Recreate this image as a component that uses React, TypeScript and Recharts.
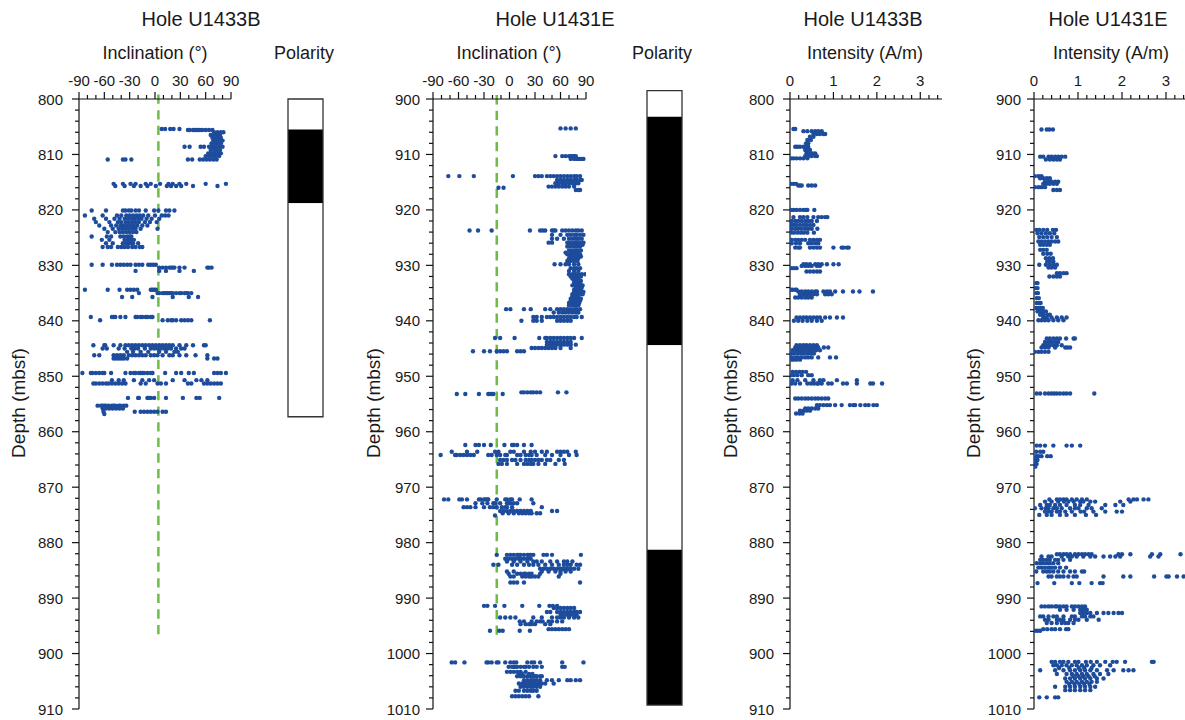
import React from 'react';
import { ScatterChart, Scatter, XAxis, YAxis, ReferenceLine, ReferenceArea } from 'recharts';

type Row = [number, number[]];

// each row: depth (mbsf) and the values measured around that depth
const incU1433B: Row[] = [
  [805.4, [8, 12, 18, 22, 29]],
  [805.6, [39, 41, 45, 47, 49, 51, 53, 56, 60, 64, 68]],
  [806.0, [70, 74, 78, 81]],
  [806.5, [66, 70, 74, 77]],
  [807.0, [68, 71, 75, 78]],
  [807.5, [69, 72, 76, 80]],
  [808.0, [67, 71, 74, 78]],
  [808.6, [35, 41, 54, 58, 64, 68, 72, 76, 80]],
  [809.2, [66, 70, 73, 77]],
  [809.8, [63, 67, 71, 75, 78]],
  [810.3, [60, 64, 68, 72, 76]],
  [810.9, [-56, -38, -35, -28, 39, 44, 53, 57, 61, 65, 69, 73]],
  [815.3, [-49, -38, -29, -23, -11, -5, 6, 16, 21, 29, 37, 60, 84]],
  [815.7, [-47, -36, -25, -17, -9, 1, 14, 19, 25, 31, 45, 74]],
  [820.1, [-75, -58, -38, -35, -31, -28, -23, -19, -11, -1, 4, 13, 17, 23]],
  [821.0, [-83, -62, -45, -40, -34, -30, -26, -22, -18, -14, -8, 0, 8, 12, 16]],
  [821.6, [-72, -58, -48, -42, -36, -32, -28, -24, -20, -16, -10, -4, 5]],
  [822.2, [-70, -54, -44, -40, -35, -31, -27, -23, -19, -12, -6, 2]],
  [822.8, [-66, -52, -46, -41, -37, -33, -29, -25, -21, -15, -9]],
  [823.4, [-60, -50, -43, -39, -35, -31, -27, -23, -17, 3]],
  [824.0, [-56, -47, -42, -38, -34, -30, -26, -22]],
  [824.8, [-75, -57, -52, -41, -37, -33, -30, -28]],
  [825.4, [-63, -54, -36, -32, -29, -27, -25]],
  [826.0, [-58, -50, -38, -34, -31, -28, -26, -20]],
  [826.7, [-62, -56, -52, -44, -40, -36, -32, -27, -23, -18, -15]],
  [829.9, [-75, -62, -51, -45, -41, -37, -33, -29, -23, -19, -15, -8, -5, -2, 1]],
  [830.4, [5, 9, 13, 17, 19, 21, 23, 29, 35, 62, 64, 67]],
  [831.0, [-23, 5, 13, 29, 46]],
  [834.4, [-83, -56, -42, -33, -29, -25, -21, -5, -3, -1, 1]],
  [835.0, [-19, 3, 5, 9, 11, 13, 15, 17, 19, 21, 25, 29, 31, 35, 37, 39, 43]],
  [835.7, [-39, -27, -3, 21, 40, 51]],
  [839.3, [-76, -51, -49, -47, -41, -35, -23, -21, -17, -15, -11, -9, -5, -3]],
  [839.9, [-65, 9, 15, 19, 21, 25, 31, 35, 39, 43, 65]],
  [844.4, [-73, -60, -59, -49, -41, -35, -31, -27, -23, -19, -15, -11, -7, -3, 1, 5, 9, 13, 17, 21, 29, 37, 45, 58, 60]],
  [845.0, [-62, -57, -43, -36, -28, -24, -20, -12, -5, -1, 3, 7, 11, 15, 19, 25, 31, 35]],
  [845.6, [-33, -26, -17, -8, 5, 13, 23, 27]],
  [846.2, [-72, -66, -49, -45, -41, -37, -31, -27, -23, -19, -15, -11, -5, -1, 3, 9, 17, 21, 29, 37, 48, 62]],
  [846.8, [-49, -46, -43, -40, -37, -33, 62, 70, 74]],
  [849.4, [-86, -76, -74, -70, -66, -62, -60, -52, -35, -29, -25, -23, -19, -17, -15, -13, -9, -5, -3, 12, 25, 31, 40, 46, 70, 74, 78, 84]],
  [850.7, [-51, -43, -37, -25, -15, -7, -1, 21, 35, 49, 55, 62]],
  [851.3, [-73, -70, -66, -62, -58, -55, -51, -47, -43, -39, -35, -17, -11, 3, 7, 13, 39, 43, 58, 62, 66, 70, 74, 78]],
  [853.9, [-32, -20, -19, -9, -7, -5, -1, 13, 33, 49, 53, 76]],
  [855.3, [-68, -64, -62, -60, -58, -55, -51, -49, -47, -43, -41, -37, -34]],
  [855.8, [-62, -58, -54, -50, -46, -42, -38]],
  [856.4, [-61, -24, -17, -13, -9, -5, -1, 3, 9, 13]],
  [856.8, [-60]],
];

const incU1431E: Row[] = [
  [905.3, [60, 66, 72, 78]],
  [910.3, [54, 62, 66, 70, 72, 74, 76, 78]],
  [910.8, [72, 76, 79, 81, 83, 85, 87]],
  [913.9, [-72, -59, -42, 4, 30, 34, 38, 44, 48, 52, 56, 60, 64, 68, 72, 76, 79, 83]],
  [914.6, [56, 60, 64, 68, 72, 76, 79, 83, 85]],
  [915.2, [54, 58, 62, 66, 70, 74, 78, 81]],
  [915.8, [46, 50, 54, 58, 62, 66, 70, 76]],
  [916.0, [-13, -7]],
  [916.4, [78, 81, 83]],
  [923.7, [-47, -37, -21, 24, 36, 39, 42, 50, 52, 54, 62, 66, 70, 74, 78, 81, 85]],
  [924.5, [50, 60, 68, 72, 76, 79, 83, 87]],
  [925.2, [50, 56, 64, 70, 74, 78, 81, 85]],
  [925.9, [46, 50, 68, 72, 76, 79, 83, 87]],
  [926.3, [70, 74, 78, 82, 86]],
  [926.6, [68, 72, 76, 79, 83]],
  [927.3, [70, 74, 78, 81, 84]],
  [927.7, [66, 72, 76, 80]],
  [928.0, [68, 72, 76, 79, 83]],
  [928.4, [72, 76, 80, 84]],
  [928.7, [70, 74, 78, 81]],
  [929.2, [68, 72, 76, 80]],
  [929.8, [53, 60, 66, 70, 76, 81]],
  [930.5, [72, 76, 79, 83]],
  [931.0, [70, 76, 81]],
  [931.6, [70, 74, 78, 81, 85, 89]],
  [932.0, [72, 76, 80, 84]],
  [932.4, [74, 78, 81]],
  [932.8, [76, 80, 84]],
  [933.2, [76, 79, 83]],
  [933.6, [74, 78, 82, 86]],
  [934.0, [78, 81, 85]],
  [934.4, [76, 80, 84]],
  [934.8, [76, 79, 83, 87]],
  [935.2, [74, 78, 82, 86]],
  [935.6, [74, 78, 81]],
  [936.0, [72, 76, 80, 84]],
  [936.4, [72, 76, 79, 83]],
  [936.8, [70, 74, 78, 82]],
  [937.2, [70, 74, 78, 81]],
  [937.9, [-4, 1, 17, 25, 42, 48, 56, 60, 64, 68, 72, 76, 79, 83]],
  [938.5, [52, 58, 62, 66, 70, 74, 78, 81]],
  [939.3, [28, 32, 38, 44, 48, 52, 56, 60, 64, 68, 72, 76, 79, 85]],
  [940.0, [14, 28, 32, 38, 56, 60, 64, 68, 72]],
  [943.1, [-17, -11, 6, 35, 42, 44, 48, 52, 56, 60, 64, 68, 72, 76, 85]],
  [943.8, [44, 48, 52, 56, 60, 64, 68, 72]],
  [944.3, [44, 48, 52, 56, 60, 64, 68, 72, 78]],
  [944.9, [26, 30, 34, 38, 42, 46, 50, 54, 60, 72]],
  [945.5, [-43, -30, -23, -15, -11, -7, -3, 9, 13, 17]],
  [952.9, [14, 17, 21, 25, 28, 32, 36, 57, 67]],
  [953.2, [-62, -52, -36, -25, -23, -21, -19, -8]],
  [962.4, [-52, -40, -36, -30, -22, -6, 3, 5, 9, 17, 26]],
  [963.6, [-68, -50, -38, -17, -13, 1, 5, 17, 25, 30, 38, 44, 56, 60, 64, 68, 78]],
  [964.2, [-81, -64, -62, -58, -54, -50, -46, -42, -25, -21, -15, -11, -5, -3, 9, 13, 19, 23, 26, 32, 42, 50, 60, 70, 79]],
  [965.1, [-11, -7, -3, 3, 7, 13, 19, 23, 26, 30, 34, 38, 44, 48, 58, 64]],
  [965.8, [-13, -9, -3, 9, 17, 21, 25, 28, 34, 42, 54, 65]],
  [972.2, [-77, -72, -59, -56, -50, -36, -34, -30, -28, -26, -25, -15, -5, -3, 1, 3, 12, 26]],
  [972.9, [-40, -32, -26, -19, -17, -11, -3, -1, 1, 5, 9, 28]],
  [973.6, [-54, -50, -46, -40, -30, -23, -19, -15, -9, -5, -3, 3, 38]],
  [974.3, [-11, -7, -3, 1, 5, 9, 13, 17, 21, 25, 50, 56]],
  [974.7, [-8, -1, 5, 11, 15, 19, 23, 26, 32, 36]],
  [975.1, [-17]],
  [982.2, [-15, -3, 1, 5, 9, 11, 13, 17, 21, 23, 25, 28, 40, 44, 50, 84]],
  [982.9, [-5, -1, 3, 7, 11, 13, 17, 21, 25]],
  [983.4, [-3, 5, 13, 21, 28, 32, 38, 48, 56, 64, 68, 74]],
  [984.0, [-19, -13, 3, 9, 17, 23, 28, 34, 42, 50, 58, 64, 68, 72, 79, 83]],
  [984.7, [36, 40, 44, 48, 52, 56, 60, 62, 64, 66, 68, 70, 72, 76, 81]],
  [985.2, [-3, 5, 38, 46, 54, 60, 66, 72]],
  [985.6, [-1, 9, 13, 17, 19, 23, 26, 36, 60]],
  [986.1, [1, 5, 15, 19, 23, 26, 30, 34, 58]],
  [987.2, [1, 5, 9, 17, 83]],
  [991.4, [-30, -26, -17, -6, 15, 35, 47, 51, 56]],
  [991.8, [52, 56, 60, 64, 68, 72, 76]],
  [992.5, [44, 48, 56, 60, 64, 68, 72, 76, 79, 83]],
  [993.0, [60, 64, 68, 72, 76, 79]],
  [993.5, [-11, -5, 1, 7, 28, 38, 50, 56, 60, 64, 70, 76, 81]],
  [994.2, [12, 17, 26, 32, 36, 39, 46, 50, 56, 62]],
  [994.7, [13, 19, 23, 26, 30, 42, 48]],
  [995.6, [46, 50, 54, 58, 62, 66, 70]],
  [995.9, [-23, -12, -8, 12, 24]],
  [1001.6, [-68, -64, -53, -27, -25, -21, -15, -13, -5, 1, 5, 8, 21, 26, 29, 36, 62, 87]],
  [1002.4, [-1, 3, 5, 7, 9, 13, 17, 19, 23, 28, 32, 38, 62, 65]],
  [1003.3, [-3, 1, 5, 9, 13, 19]],
  [1003.7, [11, 15, 23, 27]],
  [1004.1, [9, 13, 17, 21, 25, 28, 30, 32, 36, 38]],
  [1004.8, [17, 21, 25, 28, 32, 36, 44, 50, 58, 68, 72, 78, 83]],
  [1005.4, [11, 15, 19, 23, 26, 30, 34, 38, 42, 52]],
  [1005.7, [19, 24, 31, 35]],
  [1006.0, [13, 17, 21, 25, 28, 32, 36]],
  [1006.7, [7, 11, 17, 21, 25, 28, 32]],
  [1007.7, [3, 7, 11, 15, 19, 23, 34]],
];

const intU1433B: Row[] = [
  [805.4, [0.08, 0.12]],
  [805.8, [0.31, 0.4, 0.5, 0.58, 0.65, 0.73]],
  [806.3, [0.54, 0.62, 0.69, 0.77, 0.81]],
  [806.8, [0.46, 0.54]],
  [807.4, [0.4, 0.48]],
  [808.0, [0.37, 0.42]],
  [808.6, [0.12, 0.17, 0.23, 0.31, 0.37, 0.42]],
  [809.2, [0.35, 0.4, 0.46]],
  [809.8, [0.38, 0.46, 0.52, 0.58]],
  [810.3, [0.35, 0.42, 0.5, 0.58, 0.62]],
  [810.7, [0.02, 0.08, 0.15, 0.23, 0.31, 0.4]],
  [815.3, [0.02, 0.08, 0.14]],
  [815.6, [0.19, 0.23, 0.27, 0.42, 0.5, 0.58]],
  [820.0, [0.02, 0.08, 0.15, 0.23, 0.31, 0.37, 0.4, 0.56]],
  [821.3, [0.08, 0.23, 0.31, 0.4, 0.54, 0.65, 0.73, 0.81, 0.86]],
  [822.0, [0.04, 0.12, 0.19, 0.27, 0.35, 0.42, 0.5, 0.62]],
  [822.7, [0.02, 0.08, 0.15, 0.23, 0.31, 0.38, 0.46, 0.54]],
  [823.4, [0.04, 0.12, 0.19, 0.27, 0.35, 0.42, 0.5, 0.63]],
  [824.1, [0.02, 0.09, 0.17, 0.25, 0.32, 0.4, 0.55]],
  [825.4, [0.04, 0.12, 0.19, 0.27, 0.35, 0.46, 0.54, 0.62, 0.69]],
  [826.0, [0.04, 0.14, 0.23, 0.42, 0.5, 0.58, 0.65]],
  [826.8, [0.12, 0.19, 0.23, 0.46, 0.54, 0.62, 0.69, 1.0, 1.19, 1.23, 1.31, 1.35]],
  [829.8, [0.31, 0.38, 0.46, 0.58, 0.65, 0.73, 0.85, 1.0, 1.12]],
  [830.1, [0.27, 0.35, 0.42, 0.5, 0.62, 0.69]],
  [830.5, [0.02, 0.08, 0.15]],
  [831.1, [0.38, 0.46, 0.54, 0.62, 0.69]],
  [834.4, [0.02, 0.06, 0.12, 0.15]],
  [834.7, [0.19, 0.27, 0.35, 0.42, 0.5, 0.58, 0.62, 0.77, 0.85, 0.92, 1.04, 1.22, 1.45, 1.6, 1.91]],
  [835.2, [0.23, 0.31, 0.38, 0.46, 0.54, 0.62, 0.81, 0.88, 0.96]],
  [835.8, [0.12, 0.19, 0.27, 0.35, 0.42, 0.5]],
  [839.4, [0.15, 0.23, 0.31, 0.38, 0.46, 0.54, 0.62, 0.69, 0.81, 0.92, 1.08, 1.22]],
  [840.0, [0.09, 0.19, 0.29, 0.4, 0.5, 0.62, 0.73]],
  [844.4, [0.15, 0.23, 0.31, 0.38, 0.46, 0.54, 0.62]],
  [844.8, [0.12, 0.19, 0.27, 0.35, 0.42, 0.5, 0.58, 0.65, 0.78, 0.88]],
  [845.3, [0.06, 0.14, 0.22, 0.29, 0.37, 0.45, 0.52, 0.6, 0.69]],
  [845.9, [0.02, 0.09, 0.17, 0.25, 0.32, 0.4, 0.48, 0.55]],
  [846.6, [0.04, 0.12, 0.19, 0.27, 0.35, 0.42, 0.5, 0.65, 0.92, 1.06]],
  [847.0, [0.02, 0.08, 0.15, 0.23]],
  [849.2, [0.06, 0.14, 0.22, 0.29, 0.37]],
  [849.8, [0.02, 0.09, 0.17, 0.27, 0.42, 0.5]],
  [850.7, [0.06, 0.17, 0.35, 0.54, 0.69, 0.77, 1.08, 1.54]],
  [851.3, [0.04, 0.12, 0.23, 0.4, 0.48, 0.55, 0.62, 0.65, 0.73, 0.88, 0.96, 1.22, 1.31, 1.54, 1.85, 1.91, 2.12]],
  [854.0, [0.12, 0.19, 0.27, 0.35, 0.42, 0.5, 0.58, 0.65, 0.73, 0.81, 0.88]],
  [855.2, [0.62, 0.69, 0.77, 0.85, 0.92, 1.04, 1.19, 1.38, 1.46, 1.5, 1.62, 1.73, 1.81, 1.92, 2.0]],
  [855.8, [0.35, 0.42, 0.5, 0.58, 0.65]],
  [856.2, [0.23, 0.31, 0.38, 0.46]],
  [856.7, [0.14, 0.22, 0.29]],
];

const intU1431E: Row[] = [
  [905.5, [0.17, 0.29, 0.35, 0.43]],
  [910.4, [0.14, 0.21, 0.33, 0.4, 0.48, 0.55, 0.63, 0.71]],
  [910.9, [0.27, 0.36, 0.44, 0.52, 0.59]],
  [913.9, [0.02, 0.1, 0.17]],
  [914.3, [0.14, 0.21, 0.29, 0.36]],
  [914.9, [0.25, 0.33, 0.4, 0.48, 0.55]],
  [915.3, [0.21, 0.29, 0.36, 0.44, 0.52]],
  [915.9, [0.02, 0.1, 0.17, 0.25]],
  [916.4, [0.44, 0.52, 0.59]],
  [923.6, [0.05, 0.12, 0.21, 0.3, 0.43, 0.5]],
  [924.2, [0.08, 0.17, 0.27, 0.36, 0.46]],
  [924.9, [0.12, 0.21, 0.3, 0.4, 0.52]],
  [925.7, [0.1, 0.17, 0.25, 0.33, 0.4, 0.48, 0.55]],
  [926.3, [0.14, 0.21, 0.29, 0.36]],
  [927.2, [0.14, 0.21, 0.29]],
  [927.9, [0.21, 0.3, 0.38]],
  [928.7, [0.27, 0.35, 0.43]],
  [929.3, [0.3, 0.36, 0.44]],
  [929.9, [0.12, 0.27, 0.36, 0.44, 0.52]],
  [930.4, [0.33, 0.4, 0.48]],
  [931.4, [0.52, 0.59, 0.67, 0.74]],
  [932.0, [0.35, 0.44, 0.52, 0.59]],
  [933.2, [0.05, 0.08]],
  [934.1, [0.03, 0.08]],
  [935.0, [0.05, 0.09]],
  [935.9, [0.06, 0.11]],
  [936.8, [0.06, 0.12, 0.15]],
  [937.7, [0.05, 0.1, 0.15, 0.2]],
  [938.3, [0.08, 0.14, 0.21, 0.27]],
  [938.9, [0.14, 0.21, 0.3, 0.36]],
  [939.4, [0.21, 0.29, 0.4, 0.52, 0.63, 0.74]],
  [939.9, [0.1, 0.17, 0.25, 0.33, 0.44, 0.55, 0.67]],
  [943.2, [0.29, 0.36, 0.44, 0.52, 0.59, 0.73, 0.9, 0.93]],
  [943.8, [0.25, 0.33, 0.4, 0.48, 0.55]],
  [944.4, [0.21, 0.29, 0.36, 0.44, 0.52, 0.63]],
  [944.8, [0.17, 0.25, 0.33, 0.48, 0.71, 0.76, 0.82]],
  [945.6, [0.02, 0.1, 0.17, 0.25, 0.33]],
  [953.1, [0.06, 0.14, 0.25, 0.33, 0.4, 0.46, 0.52, 0.59, 0.67, 0.74, 0.82, 1.37]],
  [962.5, [0.06, 0.14, 0.25, 0.44, 0.74, 0.86, 1.05]],
  [963.6, [0.05, 0.14, 0.21]],
  [964.4, [0.05, 0.1, 0.17, 0.3, 0.38]],
  [965.1, [0.03, 0.08]],
  [965.8, [0.02, 0.06]],
  [966.3, [0.03]],
  [972.2, [0.35, 0.52, 0.59, 0.67, 0.74, 0.86, 0.97, 1.09, 1.2, 2.15, 2.26, 2.34, 2.49, 2.6]],
  [972.6, [0.25, 0.4, 0.55, 0.68, 0.78, 0.9, 1.05, 1.12, 1.28, 1.39, 1.96, 2.19]],
  [973.2, [0.14, 0.29, 0.36, 0.48, 0.59, 0.74, 0.93, 1.05, 1.24, 1.62, 1.85, 2.03]],
  [973.8, [0.02, 0.17, 0.27, 0.33, 0.44, 0.52, 0.63, 0.82, 0.93, 1.01, 1.2, 1.31, 1.54]],
  [974.4, [0.25, 0.33, 0.4, 0.52, 0.59, 0.71, 0.86, 1.06, 1.14, 1.35, 1.62, 1.88, 2.0]],
  [975.0, [0.12, 0.29, 0.4, 0.59, 0.74, 0.93, 1.18, 1.41]],
  [982.1, [0.52, 0.59, 0.67, 0.74, 0.82, 0.93, 1.01, 1.09, 1.16, 1.24, 1.31, 1.92, 2.0, 2.19, 2.68, 2.87, 3.33]],
  [982.5, [0.17, 0.33, 0.4, 0.63, 0.78, 0.86, 0.97, 1.12, 1.28, 1.39, 1.58, 1.73, 1.85, 1.96, 2.64, 2.83]],
  [983.1, [0.14, 0.21, 0.29, 0.36, 0.48, 0.55, 0.67, 0.82]],
  [983.7, [0.06, 0.14, 0.21, 0.29, 0.36, 0.44, 0.55]],
  [984.5, [0.1, 0.17, 0.25, 0.33, 0.4, 0.48, 0.59, 0.73]],
  [985.2, [0.05, 0.21, 0.29, 0.36, 0.44, 0.55, 0.67, 0.82, 0.93, 1.09, 1.14]],
  [986.1, [0.33, 0.4, 0.52, 0.59, 0.67, 0.78, 0.9, 0.97, 1.58, 2.03, 2.19, 2.73, 3.01, 3.06, 3.25, 3.4]],
  [987.3, [0.08, 0.46, 0.86, 1.03, 1.31, 1.5, 1.56]],
  [991.5, [0.17, 0.25, 0.33, 0.4, 0.48, 0.52, 0.59, 0.67, 0.74, 0.86, 0.93, 1.01, 1.09, 1.16]],
  [992.1, [0.59, 0.74, 0.9, 1.05, 1.12, 1.2]],
  [992.7, [1.05, 1.12, 1.2, 1.28, 1.43, 1.58, 1.69, 1.81, 1.92, 2.0]],
  [993.3, [0.14, 0.21, 0.33, 0.44, 0.52, 0.67, 0.86, 0.93, 1.09, 1.16, 1.28, 1.35]],
  [993.9, [0.25, 0.33, 0.52, 0.59, 0.67, 0.82, 0.93, 1.01, 1.2, 1.47]],
  [994.5, [0.29, 0.4, 0.52, 0.63, 0.71, 0.78, 0.9]],
  [995.6, [0.21, 0.3, 0.4, 0.48, 0.59, 0.73, 0.78]],
  [995.9, [0.02, 0.08, 0.14]],
  [1001.5, [0.4, 0.48, 0.59, 0.67, 0.78, 0.93, 1.01, 1.18, 1.29, 1.43, 1.62, 1.79, 1.88, 2.07, 2.68, 2.72]],
  [1002.1, [0.44, 0.52, 0.63, 0.74, 0.86, 0.97, 1.09, 1.2, 1.35, 1.5, 1.73]],
  [1002.6, [0.57, 0.8, 1.02, 1.14, 1.31]],
  [1003.0, [0.14, 0.48, 0.67, 0.82, 0.93, 1.05, 1.16, 1.28, 1.43, 1.66, 1.81, 2.03, 2.15, 2.26]],
  [1003.7, [0.52, 0.74, 0.86, 0.97, 1.09, 1.2, 1.35, 1.5, 1.69]],
  [1004.1, [0.9, 1.01, 1.12, 1.24, 1.38]],
  [1004.5, [0.71, 0.82, 0.93, 1.05, 1.16, 1.28, 1.43, 1.58]],
  [1005.1, [0.74, 0.86, 0.97, 1.09, 1.2, 1.31, 1.43]],
  [1005.5, [0.8, 0.92, 1.03, 1.14, 1.26]],
  [1006.0, [0.48, 0.71, 0.82, 0.93, 1.05, 1.16, 1.28, 1.39]],
  [1006.6, [0.71, 0.82, 0.93, 1.05, 1.16, 1.28]],
  [1007.9, [0.12, 0.29, 0.48, 0.55]],
];

// polarity zones, normal = black
const polarityU1433B = [
  { top: 800, base: 805.5, normal: false },
  { top: 805.5, base: 818.8, normal: true },
  { top: 818.8, base: 857.3, normal: false },
];
const polarityU1431E = [
  { top: 898.5, base: 903.2, normal: false },
  { top: 903.2, base: 944.4, normal: true },
  { top: 944.4, base: 981.3, normal: false },
  { top: 981.3, base: 1009.3, normal: true },
];

// dashed reference inclination
const refIncU1433B = { inc: 4, top: 799.2, base: 896.6 };
const refIncU1431E = { inc: -15, top: 899.3, base: 996.7 };

const depthLabelsU1433B = [800, 810, 820, 830, 840, 850, 860, 870, 880, 890, 900, 910];
const depthLabelsU1431E = [900, 910, 920, 930, 940, 950, 960, 970, 980, 990, 1000, 1010];
const incLabels = [-90, -60, -30, 0, 30, 60, 90];
const intLabels = [0, 1, 2, 3];

const steps = (from: number, to: number, step: number) => {
  const out: number[] = [];
  for (let v = from; v <= to + 1e-9; v += step) out.push(Math.round(v * 100) / 100);
  return out;
};

const toPoints = (rows: Row[]) => rows.flatMap(([d, vals]) => vals.map((v) => ({ x: v, y: d })));

const FONT = '"Liberation Sans", Arial, sans-serif';
const DOT = '#1d4c9c';
const GREEN = '#6dbd45';
const TOP = 99;
const BOTTOM = 709;
const XH = 30;
const YW = 50;

const leftTick = (labels: number[], gap: number) => (p: any) => {
  const { x, y, payload } = p;
  const major = labels.includes(payload.value);
  return (
    <g>
      <line x1={x - (major ? 7 : 4)} x2={x} y1={y} y2={y} stroke="#111" strokeWidth={1.2} />
      {major && (
        <text x={x - gap} y={y} dy={5.5} textAnchor="end" fontSize={15} fill="#1a1a1a" fontFamily={FONT}>
          {payload.value}
        </text>
      )}
    </g>
  );
};

const topTick = (labels: number[]) => (p: any) => {
  const { x, y, payload } = p;
  const major = labels.includes(payload.value);
  return (
    <g>
      <line x1={x} x2={x} y1={y} y2={y - (major ? 7 : 4)} stroke="#111" strokeWidth={1.2} />
      {major && (
        <text x={x} y={y - 13} textAnchor="middle" fontSize={15} fill="#1a1a1a" fontFamily={FONT}>
          {payload.value}
        </text>
      )}
    </g>
  );
};

interface PanelProps {
  left: number;
  width: number;
  axisX: number;
  plotRight: number;
  rows: Row[];
  xDomain: [number, number];
  xTicks: number[];
  xLabels: number[];
  depthDomain: [number, number];
  depthLabels: number[];
  labelGap: number;
  refInc?: { inc: number; top: number; base: number };
}

const Panel: React.FC<PanelProps> = (p) => {
  const margin = {
    top: TOP - XH,
    bottom: 720 - BOTTOM,
    left: p.axisX - p.left - YW,
    right: p.left + p.width - p.plotRight,
  };
  return (
    <div style={{ position: 'absolute', left: p.left, top: 0 }}>
      <ScatterChart width={p.width} height={720} margin={margin}>
        <XAxis
          type="number"
          dataKey="x"
          orientation="top"
          domain={p.xDomain}
          ticks={p.xTicks}
          interval={0}
          height={XH}
          allowDataOverflow
          tickLine={false}
          tickSize={0}
          tickMargin={0}
          tick={topTick(p.xLabels)}
          axisLine={{ stroke: '#111', strokeWidth: 1.2 }}
        />
        <YAxis
          type="number"
          dataKey="y"
          reversed
          domain={p.depthDomain}
          ticks={steps(p.depthDomain[0], p.depthDomain[1], 2)}
          interval={0}
          width={YW}
          allowDataOverflow
          tickLine={false}
          tickSize={0}
          tickMargin={0}
          tick={leftTick(p.depthLabels, p.labelGap)}
          axisLine={{ stroke: '#111', strokeWidth: 1.2 }}
        />
        {p.refInc && (
          <ReferenceLine
            segment={[
              { x: p.refInc.inc, y: p.refInc.top },
              { x: p.refInc.inc, y: p.refInc.base },
            ]}
            stroke={GREEN}
            strokeWidth={2.5}
            strokeDasharray="9.3 6.3"
            ifOverflow="visible"
          />
        )}
        <Scatter
          data={toPoints(p.rows)}
          isAnimationActive={false}
          shape={(s: any) => <circle cx={s.cx} cy={s.cy} r={2.2} fill={DOT} />}
        />
      </ScatterChart>
    </div>
  );
};

const PolarityColumn: React.FC<{
  left: number;
  plotLeft: number;
  plotRight: number;
  zones: { top: number; base: number; normal: boolean }[];
  depthDomain: [number, number];
}> = ({ left, plotLeft, plotRight, zones, depthDomain }) => {
  const width = plotRight - left + 8;
  const margin = { top: TOP, bottom: 720 - BOTTOM, left: plotLeft - left, right: 8 };
  const first = zones[0].top;
  const last = zones[zones.length - 1].base;
  return (
    <div style={{ position: 'absolute', left, top: 0 }}>
      <ScatterChart width={width} height={720} margin={margin}>
        <XAxis type="number" dataKey="x" domain={[0, 1]} hide allowDataOverflow />
        <YAxis type="number" dataKey="y" domain={depthDomain} reversed hide allowDataOverflow />
        {zones.map((z, i) => (
          <ReferenceArea
            key={i}
            x1={0}
            x2={1}
            y1={z.top}
            y2={z.base}
            fill={z.normal ? '#000' : '#fff'}
            fillOpacity={1}
            stroke="none"
            ifOverflow="visible"
          />
        ))}
        <ReferenceArea
          x1={0}
          x2={1}
          y1={first}
          y2={last}
          fill="none"
          stroke="#333"
          strokeWidth={1.3}
          ifOverflow="visible"
        />
        <Scatter data={[]} isAnimationActive={false} />
      </ScatterChart>
    </div>
  );
};

const titles = [
  { text: 'Hole U1433B', x: 201 },
  { text: 'Hole U1431E', x: 555 },
  { text: 'Hole U1433B', x: 863 },
  { text: 'Hole U1431E', x: 1108 },
];
const axisTitles = [
  { text: 'Inclination (°)', x: 155 },
  { text: 'Polarity', x: 304 },
  { text: 'Inclination (°)', x: 509 },
  { text: 'Polarity', x: 662 },
  { text: 'Intensity (A/m)', x: 865 },
  { text: 'Intensity (A/m)', x: 1111 },
];
const depthTitleX = [25, 380, 737, 980];

const App: React.FC = () => {
  const incTicks = steps(-90, 90, 10);
  const intTicks = steps(0, 3.4, 0.2);
  return (
    <div
      style={{
        position: 'fixed',
        left: 0,
        top: 0,
        width: 1185,
        height: 720,
        overflow: 'hidden',
        background: '#fff',
        fontFamily: FONT,
      }}
    >
      <Panel
        left={0}
        width={240}
        axisX={79}
        plotRight={231}
        rows={incU1433B}
        xDomain={[-90, 90]}
        xTicks={incTicks}
        xLabels={incLabels}
        depthDomain={[800, 910]}
        depthLabels={depthLabelsU1433B}
        labelGap={16}
        refInc={refIncU1433B}
      />
      <PolarityColumn left={278} plotLeft={288} plotRight={323} zones={polarityU1433B} depthDomain={[800, 910]} />
      <Panel
        left={340}
        width={255}
        axisX={433}
        plotRight={586}
        rows={incU1431E}
        xDomain={[-90, 90]}
        xTicks={incTicks}
        xLabels={incLabels}
        depthDomain={[900, 1010]}
        depthLabels={depthLabelsU1431E}
        labelGap={13}
        refInc={refIncU1431E}
      />
      <PolarityColumn left={637} plotLeft={647} plotRight={682} zones={polarityU1431E} depthDomain={[900, 1010]} />
      <Panel
        left={735}
        width={220}
        axisX={790}
        plotRight={942}
        rows={intU1433B}
        xDomain={[0, 3.5]}
        xTicks={intTicks}
        xLabels={intLabels}
        depthDomain={[800, 910]}
        depthLabels={depthLabelsU1433B}
        labelGap={16}
      />
      <Panel
        left={980}
        width={220}
        axisX={1034}
        plotRight={1188}
        rows={intU1431E}
        xDomain={[0, 3.5]}
        xTicks={intTicks}
        xLabels={intLabels}
        depthDomain={[900, 1010]}
        depthLabels={depthLabelsU1431E}
        labelGap={13}
      />
      <svg
        width={1185}
        height={720}
        style={{ position: 'absolute', left: 0, top: 0, pointerEvents: 'none' }}
        fontFamily={FONT}
        fill="#1a1a1a"
      >
        {titles.map((t, i) => (
          <text key={`t${i}`} x={t.x} y={26} fontSize={20} textAnchor="middle">
            {t.text}
          </text>
        ))}
        {axisTitles.map((t, i) => (
          <text key={`a${i}`} x={t.x} y={59} fontSize={18} textAnchor="middle">
            {t.text}
          </text>
        ))}
        {depthTitleX.map((x, i) => (
          <text key={`d${i}`} transform={`translate(${x},403) rotate(-90)`} fontSize={19} textAnchor="middle">
            Depth (mbsf)
          </text>
        ))}
      </svg>
    </div>
  );
};

export default App;
